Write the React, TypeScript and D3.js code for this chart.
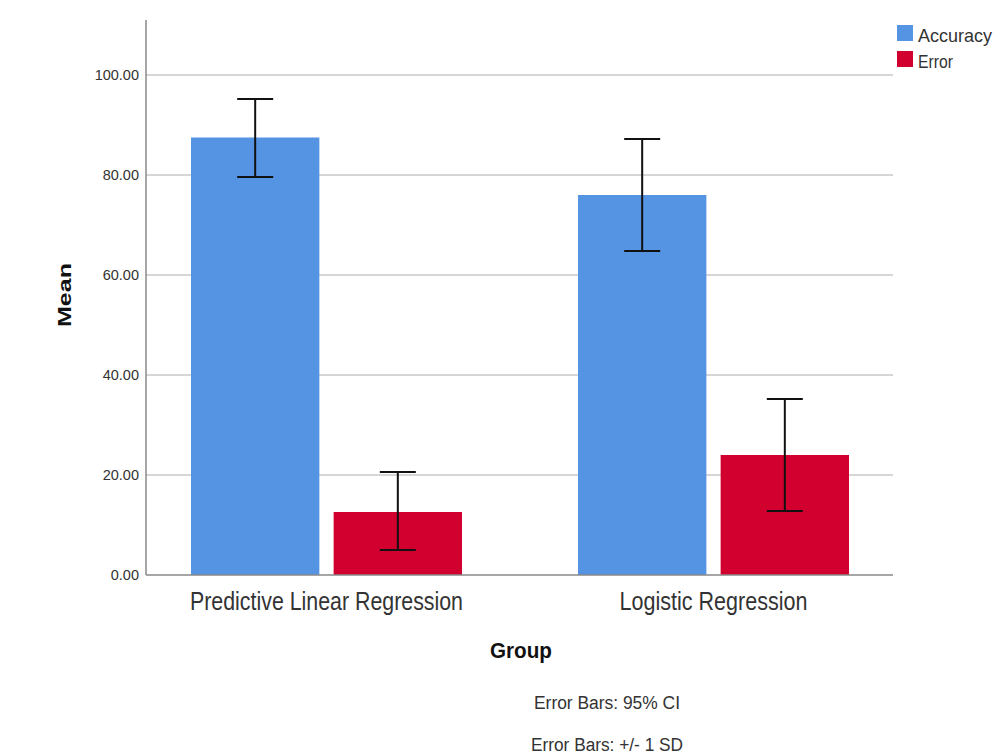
import { useEffect, useRef } from 'react';
import * as d3 from 'd3';

const groups = ['Predictive Linear Regression', 'Logistic Regression'];
const series = ['Accuracy', 'Error'];
const means = [
  [87.5, 12.6],
  [76.0, 24.0],
];
const lower = [
  [79.6, 5.0],
  [64.8, 12.8],
];
const upper = [
  [95.2, 20.6],
  [87.2, 35.2],
];
const yTicks = [0, 20, 40, 60, 80, 100];
const colors = ['#5593e3', '#d1002f'];
const notes = ['Error Bars: 95% CI', 'Error Bars: +/- 1 SD'];

export default function App() {
  const svgRef = useRef<SVGSVGElement>(null);

  useEffect(() => {
    if (!svgRef.current) return;
    const svg = d3.select(svgRef.current);
    svg.selectAll('*').remove();

    const W = 995;
    const H = 755;
    const left = 146;
    const right = 893;
    const top = 20;
    const bottom = 575;
    const font = 'Liberation Sans, Arial, sans-serif';

    svg.attr('width', W).attr('height', H);
    svg.append('rect').attr('width', W).attr('height', H).attr('fill', '#fff');

    const y = d3.scaleLinear().domain([0, 111]).range([bottom, top]);
    const x0 = d3.scaleBand<string>().domain(groups).range([133, 907]);
    const x1 = d3.scaleBand<string>().domain(series).range([58, 329]).paddingInner(0.1);

    // gridlines
    svg.append('g')
      .selectAll('line')
      .data(yTicks.filter(t => t > 0))
      .enter()
      .append('line')
      .attr('x1', left)
      .attr('x2', right)
      .attr('y1', d => y(d))
      .attr('y2', d => y(d))
      .attr('stroke', '#c8c8c8')
      .attr('stroke-width', 1.5);

    // bars + error bars
    groups.forEach((g, gi) => {
      const gx = x0(g) ?? 0;
      series.forEach((s, si) => {
        const bx = gx + (x1(s) ?? 0);
        const bw = x1.bandwidth();
        svg.append('rect')
          .attr('x', bx)
          .attr('y', y(means[gi][si]))
          .attr('width', bw)
          .attr('height', y(0) - y(means[gi][si]))
          .attr('fill', colors[si]);

        const cx = bx + bw / 2;
        const cap = 18;
        const eb = svg.append('g').attr('stroke', '#111').attr('stroke-width', 2);
        eb.append('line').attr('x1', cx).attr('x2', cx)
          .attr('y1', y(upper[gi][si])).attr('y2', y(lower[gi][si]));
        [upper[gi][si], lower[gi][si]].forEach(v => {
          eb.append('line').attr('x1', cx - cap).attr('x2', cx + cap)
            .attr('y1', y(v)).attr('y2', y(v));
        });
      });
    });

    // axis lines
    svg.append('line')
      .attr('x1', left).attr('x2', left).attr('y1', top).attr('y2', bottom)
      .attr('stroke', '#888').attr('stroke-width', 1.5);
    svg.append('line')
      .attr('x1', left).attr('x2', right).attr('y1', bottom).attr('y2', bottom)
      .attr('stroke', '#888').attr('stroke-width', 1.5);

    // y tick labels
    svg.append('g')
      .selectAll('text')
      .data(yTicks)
      .enter()
      .append('text')
      .attr('x', 139)
      .attr('y', d => y(d) + 5)
      .attr('text-anchor', 'end')
      .style('font-family', font)
      .style('font-size', '14.5px')
      .style('fill', '#333')
      .text(d => d.toFixed(2));

    // x category labels (condensed look)
    const catLen = [273, 188];
    svg.append('g')
      .selectAll('text')
      .data(groups)
      .enter()
      .append('text')
      .attr('x', (d, i) => (x0(d) ?? 0) + 58 + (329 - 58) / 2 - catLen[i] / 2)
      .attr('y', 610)
      .attr('textLength', (_, i) => catLen[i])
      .attr('lengthAdjust', 'spacingAndGlyphs')
      .style('font-family', font)
      .style('font-size', '26px')
      .style('fill', '#333')
      .text(d => d);

    // axis titles
    svg.append('text')
      .attr('transform', `translate(70.5,${295 + 32}) rotate(-90)`)
      .attr('textLength', 64)
      .attr('lengthAdjust', 'spacingAndGlyphs')
      .style('font-family', font)
      .style('font-size', '18px')
      .style('font-weight', 'bold')
      .style('fill', '#111')
      .text('Mean');

    svg.append('text')
      .attr('x', 490)
      .attr('y', 658)
      .attr('textLength', 62)
      .attr('lengthAdjust', 'spacingAndGlyphs')
      .style('font-family', font)
      .style('font-size', '22px')
      .style('font-weight', 'bold')
      .style('fill', '#111')
      .text('Group');

    // error bar notes
    const noteLen = [146, 152];
    svg.append('g')
      .selectAll('text')
      .data(notes)
      .enter()
      .append('text')
      .attr('x', (_, i) => 607 - noteLen[i] / 2)
      .attr('y', (_, i) => 709 + i * 42)
      .attr('textLength', (_, i) => noteLen[i])
      .attr('lengthAdjust', 'spacingAndGlyphs')
      .style('font-family', font)
      .style('font-size', '18px')
      .style('fill', '#333')
      .text(d => d);

    // legend
    const legLen = [74, 35];
    const lg = svg.append('g').attr('transform', 'translate(897,25)');
    series.forEach((s, i) => {
      lg.append('rect')
        .attr('x', 0).attr('y', i * 26)
        .attr('width', 16).attr('height', 16)
        .attr('fill', colors[i]);
      lg.append('text')
        .attr('x', 21).attr('y', i * 26 + 17)
        .attr('textLength', legLen[i])
        .attr('lengthAdjust', 'spacingAndGlyphs')
        .style('font-family', font)
        .style('font-size', '19px')
        .style('fill', '#333')
        .text(s);
    });
  }, []);

  return <svg ref={svgRef} style={{ position: 'absolute', left: 0, top: 0 }} />;
}
